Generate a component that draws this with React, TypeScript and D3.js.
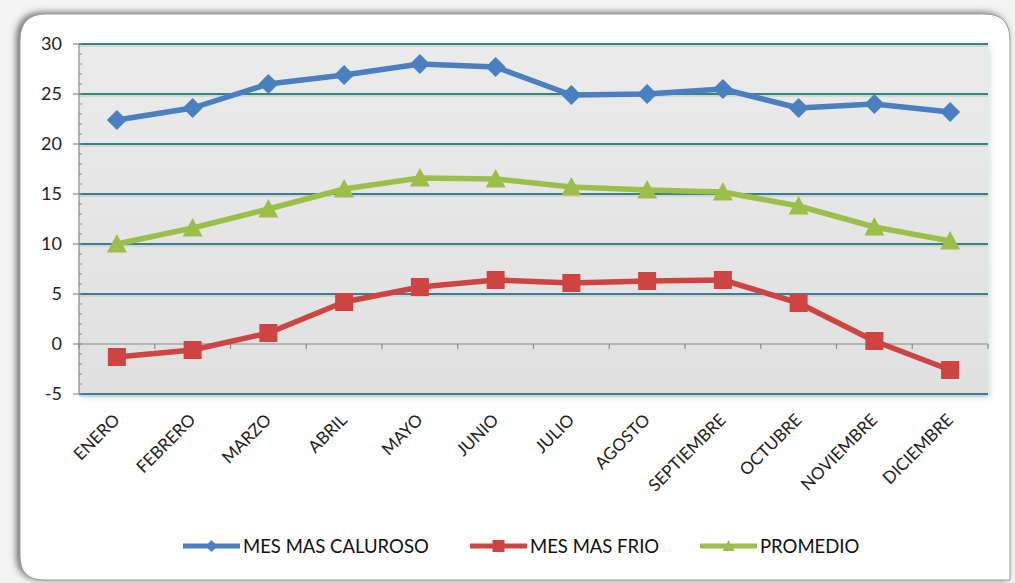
import React from "react";
import * as d3 from "d3";

const months = ["ENERO","FEBRERO","MARZO","ABRIL","MAYO","JUNIO","JULIO","AGOSTO","SEPTIEMBRE","OCTUBRE","NOVIEMBRE","DICIEMBRE"];
const calurosoValues = [22.4, 23.6, 26.0, 26.9, 28.0, 27.7, 24.9, 25.0, 25.5, 23.6, 24.0, 23.2];
const frioValues = [-1.3, -0.6, 1.1, 4.2, 5.7, 6.4, 6.1, 6.3, 6.4, 4.1, 0.3, -2.6];
const promedioValues = [10.0, 11.6, 13.5, 15.5, 16.6, 16.5, 15.7, 15.4, 15.2, 13.8, 11.7, 10.3];
const yTicks = [30, 25, 20, 15, 10, 5, 0, -5];
const seriesNames = ["MES MAS CALUROSO", "MES MAS FRIO", "PROMEDIO"];

const W = 1015, H = 583;
const plot = { left: 79, right: 988, top: 44, bottom: 394 };

const FONT = "Lato, 'Open Sans', sans-serif";

function marker(kind: string, cx: number, cy: number, r: number, color: string, key?: string) {
  if (kind === "diamond") {
    return <path key={key} d={`M${cx},${cy - r}L${cx + r},${cy}L${cx},${cy + r}L${cx - r},${cy}Z`} fill={color} />;
  }
  if (kind === "square") {
    return <rect key={key} x={cx - r} y={cy - r} width={2 * r} height={2 * r} fill={color} />;
  }
  return <path key={key} d={`M${cx},${cy - r}L${cx + r},${cy + r * 0.85}L${cx - r},${cy + r * 0.85}Z`} fill={color} />;
}

export default function App() {
  const x = d3.scaleBand<string>().domain(months).range([plot.left, plot.right]);
  const y = d3.scaleLinear().domain([-5, 30]).range([plot.bottom, plot.top]);
  const cx = (m: string) => (x(m) as number) + x.bandwidth() / 2;

  const series = [
    { name: seriesNames[0], values: calurosoValues, color: "#4a7fc0", kind: "diamond", r: 10 },
    { name: seriesNames[1], values: frioValues, color: "#cd4442", kind: "square", r: 9 },
    { name: seriesNames[2], values: promedioValues, color: "#9cbf4c", kind: "triangle", r: 10 },
  ];

  const line = d3.line<number>().x((_, i) => cx(months[i])).y((v) => y(v));

  const minorTicks = d3.range(-5, 31, 1);
  const boundaries = d3.range(0, months.length + 1).map((i) => plot.left + i * x.step());

  const legendItems = [
    { x0: 183, tx: 243 },
    { x0: 470, tx: 530 },
    { x0: 700, tx: 760 },
  ];

  return (
    <svg width={W} height={H} style={{ position: "fixed", left: 0, top: 0, background: "#ffffff" }} fontFamily={FONT}>
      <defs>
        <filter id="cardShadow" x="-5%" y="-5%" width="110%" height="110%">
          <feDropShadow dx="-3" dy="-1" stdDeviation="3.5" floodColor="#444" floodOpacity="0.8" />
        </filter>
        <linearGradient id="plotBg" x1="0" y1="0" x2="0" y2="1">
          <stop offset="0" stopColor="#ebebeb" />
          <stop offset="1" stopColor="#e0e0e0" />
        </linearGradient>
        <filter id="plotShadow" x="-5%" y="-5%" width="110%" height="115%">
          <feDropShadow dx="2" dy="3" stdDeviation="3" floodColor="#9bb" floodOpacity="0.45" />
        </filter>
      </defs>
      <rect x={0} y={0} width={W} height={H} fill="#f4f4f4" />
      <path
        d={`M20,40 Q20,14 46,14 L985,14 Q1010,14 1010,40 L1010,580 L44,580 Q20,580 20,556 Z`}
        fill="#ffffff"
        stroke="#9a9a9a"
        strokeWidth={1}
        filter="url(#cardShadow)"
      />
      {/* plot area */}
      <rect x={plot.left} y={plot.top} width={plot.right - plot.left} height={plot.bottom - plot.top} fill="url(#plotBg)" filter="url(#plotShadow)" />
      {/* gridlines */}
      {yTicks.filter((t) => t !== 0).map((t) => (
        <g key={"g" + t}>
          <line x1={plot.left} x2={plot.right} y1={y(t) + 2} y2={y(t) + 2} stroke="#cfcfcf" strokeWidth={2} opacity={0.7} />
          <line x1={plot.left} x2={plot.right} y1={y(t)} y2={y(t)} stroke={t >= 20 ? "#2e8a80" : "#3a7f92"} strokeWidth={2} />
        </g>
      ))}
      {/* zero axis */}
      <line x1={plot.left} x2={plot.right} y1={y(0)} y2={y(0)} stroke="#8c8c8c" strokeWidth={1.2} />
      {boundaries.map((bx, i) => (
        <line key={"b" + i} x1={bx} x2={bx} y1={y(0)} y2={y(0) + 5} stroke="#8c8c8c" strokeWidth={1.2} />
      ))}
      {/* y axis */}
      <line x1={plot.left} x2={plot.left} y1={plot.top} y2={plot.bottom} stroke="#8c8c8c" strokeWidth={1.2} />
      {minorTicks.map((t) => (
        <line key={"m" + t} x1={plot.left} x2={plot.left + 3} y1={y(t)} y2={y(t)} stroke="#8c8c8c" strokeWidth={1} />
      ))}
      {yTicks.map((t) => (
        <g key={"yt" + t}>
          <line x1={plot.left - 6} x2={plot.left} y1={y(t)} y2={y(t)} stroke="#8c8c8c" strokeWidth={1.2} />
          <text x={62} y={y(t)} dy="0.36em" textAnchor="end" fontSize={18} fill="#222">{t}</text>
        </g>
      ))}
      {/* x labels */}
      {months.map((m) => (
        <text
          key={"xl" + m}
          transform={`translate(${cx(m) + 4},${plot.bottom + 27}) rotate(-45)`}
          textAnchor="end"
          fontSize={17}
          fill="#222"
        >
          {m}
        </text>
      ))}
      {/* series */}
      {series.map((s) => (
        <g key={s.name}>
          <path d={line(s.values) as string} fill="none" stroke={s.color} strokeWidth={5.5} strokeLinejoin="round" />
          {s.values.map((v, i) => marker(s.kind, cx(months[i]), y(v), s.r, s.color, s.name + i))}
        </g>
      ))}
      {/* legend */}
      {series.map((s, i) => {
        const li = legendItems[i];
        const ly = 546;
        return (
          <g key={"lg" + i}>
            <line x1={li.x0} x2={li.x0 + 57} y1={ly} y2={ly} stroke={s.color} strokeWidth={5} />
            {marker(s.kind, li.x0 + 28.5, ly, 6, s.color)}
            <text x={li.tx} y={ly} dy="0.36em" fontSize={18.5} fill="#111">{s.name}</text>
          </g>
        );
      })}
    </svg>
  );
}
